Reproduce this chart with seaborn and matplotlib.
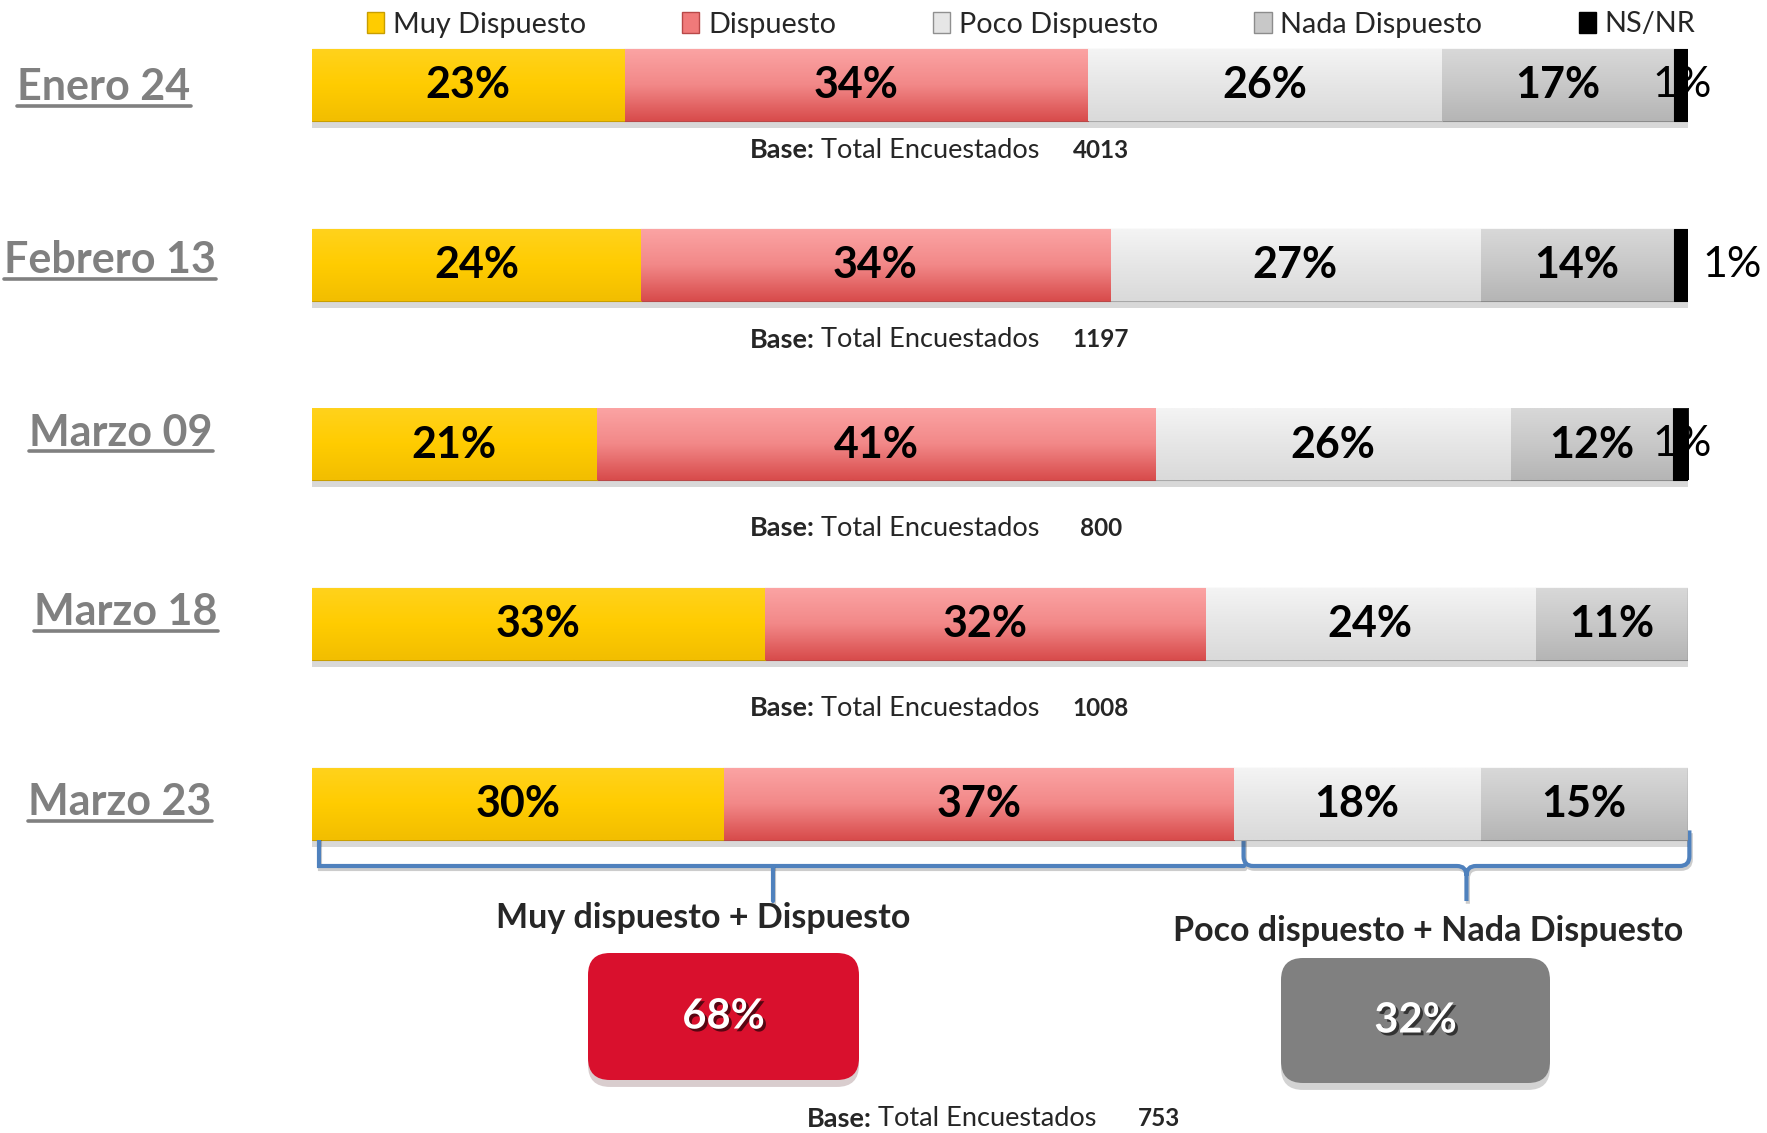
import numpy as np
import pandas as pd
import matplotlib.pyplot as plt
import matplotlib.patheffects as pe
from matplotlib.patches import Patch, FancyBboxPatch, PathPatch
from matplotlib.path import Path
from matplotlib.lines import Line2D
from matplotlib.colors import LinearSegmentedColormap
import seaborn as sns

# data
fechas = ["Enero 24", "Febrero 13", "Marzo 09", "Marzo 18", "Marzo 23"]
categorias = ["Muy Dispuesto", "Dispuesto", "Poco Dispuesto", "Nada Dispuesto", "NS/NR"]
muy_dispuesto = [22.7, 23.9, 20.7, 32.9, 29.9]
dispuesto = [33.7, 34.1, 40.6, 32.0, 37.1]
poco_dispuesto = [25.7, 26.9, 25.8, 24.0, 17.9]
nada_dispuesto = [16.9, 14.1, 11.8, 11.1, 15.1]
ns_nr = [1.0, 1.0, 1.1, 0.0, 0.0]
bases = [4013, 1197, 800, 1008, 753]
grupos = ["Muy dispuesto + Dispuesto", "Poco dispuesto + Nada Dispuesto"]
grupos_pct = [68, 32]

colores = ["#FFCC00", "#F07A7A", "#E6E6E6", "#C8C8C8", "#000000"]
bordes = ["#C89E00", "#B84848", "#A8A8A8", "#8C8C8C", "#000000"]
degradados = [["#FFD21C", "#FFCC00", "#F2BE00"],
              ["#FBA3A3", "#F28888", "#D84C4C"],
              ["#F4F4F4", "#E6E6E6", "#DADADA"],
              ["#D8D8D8", "#C8C8C8", "#B5B5B5"],
              ["#202020", "#000000", "#000000"]]

sns.set_style("white")
plt.rcParams['font.family'] = ['Lato', 'DejaVu Sans']

W, H = 1767, 1133
PX_X = 1376 / 100          # pixels per percent
PX_Y = 179.75              # pixels per row

fig = plt.figure(figsize=(W / 100, H / 100), dpi=100)
ax = fig.add_axes([312 / W, 0, 1376 / W, 1])

df = pd.DataFrame({"fecha": fechas, "Muy Dispuesto": muy_dispuesto, "Dispuesto": dispuesto,
                   "Poco Dispuesto": poco_dispuesto, "Nada Dispuesto": nada_dispuesto, "NS/NR": ns_nr})
cum = df[categorias].cumsum(axis=1)

# stacked bars: cumulative totals drawn from the longest down
capas = {}
for k in range(len(categorias) - 1, -1, -1):
    n_before = len(ax.patches)
    sns.barplot(x=cum[categorias[k]], y=df["fecha"], orient="h", color=colores[k],
                saturation=1, width=0.4, edgecolor=bordes[k], linewidth=0.8, ax=ax)
    capas[k] = list(ax.patches[n_before:])

ax.set_xlim(0, 100)
ax.set_ylim(4 + (H - 804) / PX_Y, -85 / PX_Y)
ax.axis("off")

# turn each cumulative bar into its own segment, add shading and a soft shadow
grad = np.linspace(0, 1, 64).reshape(-1, 1)
for k, parches in capas.items():
    cmap = LinearSegmentedColormap.from_list(f"g{k}", degradados[k])
    for i, p in enumerate(parches):
        izq = cum.loc[i, categorias[k - 1]] if k > 0 else 0
        p.set_x(izq)
        p.set_width(df.loc[i, categorias[k]])
        p.set_zorder(2)
        p.set_path_effects([pe.SimplePatchShadow(offset=(0, -5), alpha=0.2, shadow_rgbFace="#404040"),
                            pe.Normal()])
        if p.get_width() > 0:
            x0, y0, w, h = p.get_x(), p.get_y(), p.get_width(), p.get_height()
            ax.imshow(grad, extent=(x0, x0 + w, y0 + h, y0), aspect="auto", cmap=cmap,
                      interpolation="bilinear", zorder=2.1, clip_path=p)
        if k == 4:
            p.set_zorder(4)
ax.set_xlim(0, 100)
ax.set_ylim(4 + (H - 804) / PX_Y, -85 / PX_Y)

# percentage labels
for i in range(len(fechas)):
    left = 0
    for k, cat in enumerate(categorias):
        v = df.loc[i, cat]
        if v > 0 and k < 4:
            ax.text(left + v / 2, i, f"{int(v + 0.5)}%", ha="center", va="center",
                    fontsize=31, fontweight="bold", color="black", zorder=5)
        left += v

# NS/NR labels sit next to (and partly behind) the black sliver
ns_dx = [-0.4, 3.2, -0.4]
for i, v in enumerate(ns_nr):
    if v > 0:
        ax.text(cum.loc[i, "NS/NR"] + ns_dx[i], i, f"{int(v + 0.5)}%", ha="center", va="center",
                fontsize=31, color="black", zorder=3)

fig.canvas.draw()
renderer = fig.canvas.get_renderer()
inv = ax.transData.inverted()

# row labels, gray, bold, underlined
label_x = [104, 110, 121, 126, 120]
label_dy = [15, 8, 1, 1, 11]
for i, f in enumerate(fechas):
    xd = (label_x[i] - 312) / PX_X
    yd = i + label_dy[i] / PX_Y
    t = ax.text(xd, yd, f, ha="center", va="baseline", fontsize=31, fontweight="bold",
                color="#808080", clip_on=False)
    bb = t.get_window_extent(renderer)
    x0 = inv.transform((bb.x0, 0))[0]
    x1 = inv.transform((bb.x1, 0))[0]
    yu = yd + 6 / PX_Y
    ax.add_line(Line2D([x0, x1], [yu, yu], color="#808080", lw=2.6, clip_on=False))

# base notes: "Base:" bold + "Total Encuestados" regular, centred on x_mid
def base_note(y, x_mid, x_num, n):
    t1 = ax.text(0, y, "Base:", ha="left", va="center", fontsize=19.5, fontweight="bold")
    t2 = ax.text(0, y, "Total Encuestados", ha="left", va="center", fontsize=19.5)
    w1 = t1.get_window_extent(renderer).width / PX_X
    w2 = t2.get_window_extent(renderer).width / PX_X
    gap = 0.45
    start = x_mid - (w1 + gap + w2) / 2
    t1.set_x(start)
    t2.set_x(start + w1 + gap)
    ax.text(x_num, y, str(n), ha="center", va="center", fontsize=17.5, fontweight="bold")

base_dy = [65, 75, 84, 84]
for i in range(4):
    base_note(i + base_dy[i] / PX_Y, (895 - 312) / PX_X, (1101 - 312) / PX_X, bases[i])
base_note(4 + 315 / PX_Y, (952 - 312) / PX_X, (1159 - 312) / PX_X, bases[4])

# braces under the last bar
split = cum.loc[4, "Dispuesto"]
ytop, ymid, ybot = 4 + 30 / PX_Y, 4 + 62 / PX_Y, 4 + 97 / PX_Y
azul = "#4F81BD"
brace_fx = [pe.SimpleLineShadow(offset=(1, -2), alpha=0.2), pe.Normal()]
ax.plot([0.5, 0.5, split + 0.7], [ytop, ymid, ymid], color=azul, lw=3, clip_on=False,
        solid_joinstyle="miter", path_effects=brace_fx)
ax.plot([split / 2, split / 2], [ymid, ybot], color=azul, lw=3, clip_on=False, path_effects=brace_fx)

r, ry = 0.7, 0.7 * PX_X / PX_Y
x0, x1 = split + 0.7, 100.1
xm = (x0 + x1) / 2
verts = [(x0, ytop - 0.02), (x0, ymid - ry), (x0, ymid), (x0 + r, ymid),
         (xm - r, ymid), (xm, ymid), (xm, ymid + ry), (xm, ybot),
         (xm, ymid + ry), (xm, ymid), (xm + r, ymid),
         (x1 - r, ymid), (x1, ymid), (x1, ymid - ry), (x1, ytop - 0.02)]
codes = [Path.MOVETO, Path.LINETO, Path.CURVE3, Path.CURVE3,
         Path.LINETO, Path.CURVE3, Path.CURVE3, Path.LINETO,
         Path.MOVETO, Path.CURVE3, Path.CURVE3,
         Path.LINETO, Path.CURVE3, Path.CURVE3, Path.LINETO]
ax.add_patch(PathPatch(Path(verts, codes), fc="none", ec=azul, lw=3, clip_on=False,
                       path_effects=[pe.SimpleLineShadow(offset=(1, -2), alpha=0.2), pe.Normal()]))

# group totals
ax.text((703 - 312) / PX_X, 4 + 114 / PX_Y, grupos[0], ha="center", va="center",
        fontsize=24.5, fontweight="bold")
ax.text((1428 - 312) / PX_X, 4 + 127 / PX_Y, grupos[1], ha="center", va="center",
        fontsize=24.5, fontweight="bold")

cajas = [((588, 953, 271, 127), "#D9102D"), ((1281, 958, 269, 125), "#808080")]
for j, ((px, py, pw, ph), c) in enumerate(cajas):
    bx, by = (px - 312) / PX_X, 4 + (py - 804) / PX_Y
    bw, bh = pw / PX_X, ph / PX_Y
    box = FancyBboxPatch((bx, by), bw, bh, boxstyle="round,pad=0,rounding_size=1.6",
                         mutation_aspect=PX_X / PX_Y, fc=c, ec="none", clip_on=False,
                         path_effects=[pe.SimplePatchShadow(offset=(0, -5), alpha=0.2), pe.Normal()])
    ax.add_patch(box)
    ax.text(bx + bw / 2, by + bh / 2, f"{grupos_pct[j]}%", ha="center", va="center",
            fontsize=30, fontweight="bold", color="white",
            path_effects=[pe.withSimplePatchShadow(offset=(2, -2), alpha=0.6, shadow_rgbFace="black")])

# legend across the top
handles = [Patch(facecolor=colores[k], edgecolor=bordes[k] if k != 2 else "#909090") for k in range(5)]
fig.legend(handles, categorias, loc="center", bbox_to_anchor=(0.5835, 1 - 24.5 / H), ncol=5,
           frameon=False, fontsize=20.8, handlelength=0.6, handleheight=0.7, handletextpad=0.3,
           columnspacing=3.34)

plt.savefig("out.png", dpi=100)
plt.close()
